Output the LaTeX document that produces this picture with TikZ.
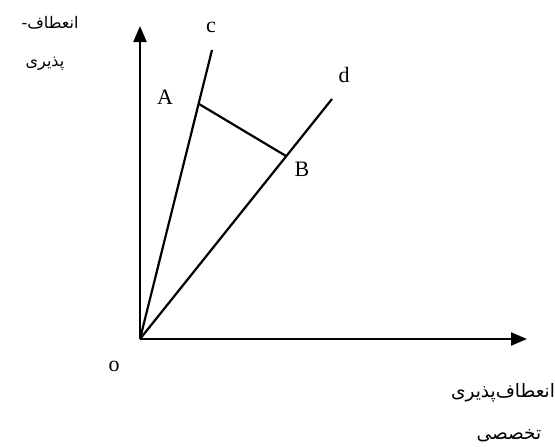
\documentclass[tikz,border=0pt]{standalone}
\usepackage{fontspec}
\setmainfont{Liberation Serif}
\newfontfamily\arabicfont[Script=Arabic]{DejaVu Sans}
\TeXXeTstate=1
\usetikzlibrary{arrows.meta}
\begin{document}
\begin{tikzpicture}[x=1pt,y=-1pt,
  ln/.style={line width=2.2pt},
  ax/.style={line width=2.2pt,-{Triangle[length=16pt,width=13pt]}},
  lbl/.style={font=\fontsize{22}{24}\selectfont,inner sep=0pt},
  fa/.style={font=\arabicfont\fontsize{16}{19}\selectfont,inner sep=0pt},
  fb/.style={font=\arabicfont\fontsize{18.5}{21}\selectfont,inner sep=0pt}]
\useasboundingbox (0,0) rectangle (555,447);
\coordinate (O) at (140,339);
\coordinate (Ytop) at (140,26);
\coordinate (Xend) at (527,339);
\coordinate (C) at (212,50);
\coordinate (D) at (332,99);
\coordinate (A) at (199,104);
\coordinate (B) at (286,156);
\draw[ax] (O) -- (Ytop);
\draw[ax] (O) -- (Xend);
\draw[ln] (O) -- (C);
\draw[ln] (O) -- (D);
\draw[ln] (A) -- (B);
\node[lbl] (lc) at (211,27) {c};
\node[lbl] (ld) at (344,75) {d};
\node[lbl] (lA) at (165,97) {A};
\node[lbl] (lB) at (302,169) {B};
\node[lbl] (lo) at (114,366) {o};
\node[fa] (y1) at (50,23) {\beginR انعطاف-\endR};
\node[fa] (y2) at (45,64) {\beginR پذیری\endR};
\node[fb] (x1) at (503,393) {\beginR انعطاف‌پذیری\endR};
\node[fb] (x2) at (509,436) {\beginR تخصصی\endR};
\end{tikzpicture}
\end{document}
